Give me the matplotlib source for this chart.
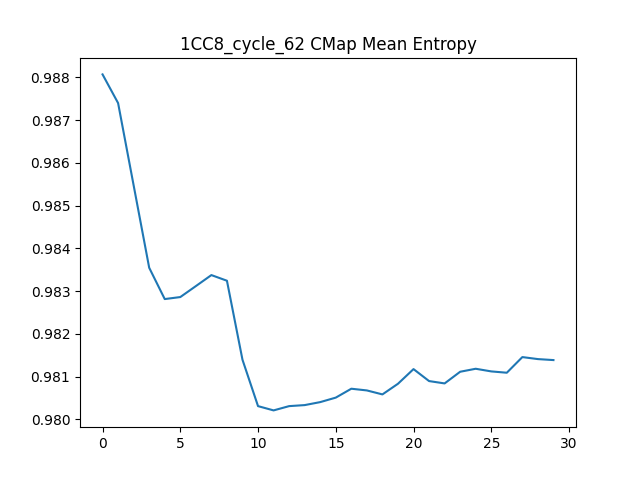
import matplotlib
matplotlib.use("Agg")
import matplotlib.pyplot as plt

cycles = list(range(30))
entropy = [0.988070, 0.987399, 0.985474, 0.983548, 0.982815, 0.982862,
           0.983118, 0.983376, 0.983244, 0.981396, 0.980311, 0.980211,
           0.980311, 0.980335, 0.980405, 0.980510, 0.980718, 0.980678,
           0.980585, 0.980834, 0.981177, 0.980897, 0.980842, 0.981115,
           0.981185, 0.981123, 0.981092, 0.981458, 0.981411, 0.981388]
title = "1CC8_cycle_62 CMap Mean Entropy"

fig, ax = plt.subplots(figsize=(6.4, 4.8), dpi=100)
ax.plot(cycles, entropy)
ax.set_title(title)
fig.savefig("out.png")
